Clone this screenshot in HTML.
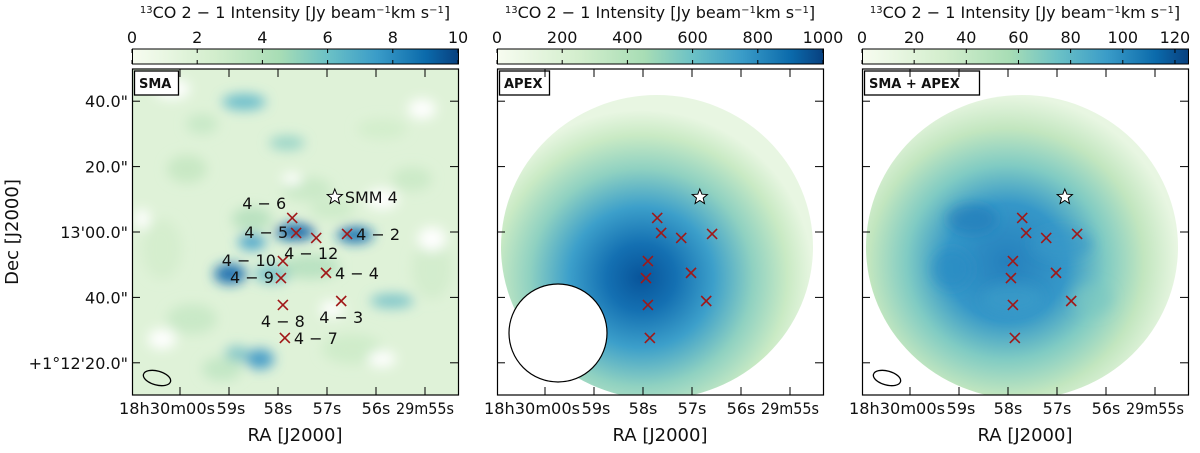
<!DOCTYPE html>
<html><head><meta charset="utf-8"><style>
body{margin:0;background:#fff;width:1200px;height:448px;overflow:hidden}
svg text{font-family:"DejaVu Sans","Liberation Sans",sans-serif;fill:#111}
</style></head><body>
<svg id="fig" width="1200" height="448" viewBox="0 0 1200 448">
<defs>
<linearGradient id="gnbu" x1="0" x2="1" y1="0" y2="0">
<stop offset="0" stop-color="#f7fcf0"/><stop offset="0.25" stop-color="#d3eecd"/><stop offset="0.45" stop-color="#a8ddb5"/>
<stop offset="0.6" stop-color="#6bc1c6"/><stop offset="0.75" stop-color="#3a9cc8"/><stop offset="0.9" stop-color="#0b6aab"/><stop offset="1" stop-color="#08407f"/>
</linearGradient>
<radialGradient id="apex" cx="0.45" cy="0.6" r="0.55">
<stop offset="0" stop-color="#08549a"/><stop offset="0.2" stop-color="#1470b2"/><stop offset="0.42" stop-color="#3c9fca"/>
<stop offset="0.65" stop-color="#8fd1c1"/><stop offset="0.85" stop-color="#c9eac4"/><stop offset="1" stop-color="#e8f6e2"/>
</radialGradient>
<radialGradient id="comb" cx="0.45" cy="0.55" r="0.55">
<stop offset="0" stop-color="#2580bd"/><stop offset="0.35" stop-color="#3597c8"/><stop offset="0.58" stop-color="#80cbc3"/>
<stop offset="0.8" stop-color="#c2e6bf"/><stop offset="1" stop-color="#e8f6e2"/>
</radialGradient>
<filter id="blur" x="-50%" y="-50%" width="200%" height="200%"><feGaussianBlur stdDeviation="6"/></filter>
<clipPath id="c1"><rect x="132" y="69" width="326" height="326"/></clipPath>
<clipPath id="c2"><rect x="497" y="69" width="326" height="326"/></clipPath>
<clipPath id="c3"><rect x="862" y="69" width="326" height="326"/></clipPath>
</defs>
</svg>
<script>
const NS="http://www.w3.org/2000/svg";
const svg=document.getElementById('fig');
const panelX=[132,497,862];
const panelW=326, panelTop=69, panelH=326;
const cbMax=[10,1000,125];
const cbTicks=[[0,2,4,6,8,10],[0,200,400,600,800,1000],[0,20,40,60,80,100,120]];
const panelLabels=["SMA","APEX","SMA + APEX"];
const raLabels=["18h30m00s","59s","58s","57s","56s","29m55s"];
const raTickOffsets=[0,1,2,3,4,5];      // seconds before 18h30m00s
const decLabels=["40.0\"","20.0\"","13'00.0\"","40.0\"","+1°12'20.0\""];
const decValues=[40,20,0,-20,-40];     // arcsec rel. to 13'00"
const srcNames=["4-6","4-5","4-12","4-2","4-10","4-9","4-4","4-8","4-3","4-7"];
const srcRA=[2.29,2.37,2.78,3.41,2.10,2.06,2.98,2.10,3.29,2.14];
const srcDec=[4.3,-0.3,-1.8,-0.6,-8.9,-14.1,-12.5,-22.3,-21.1,-32.4];
const starRA=3.16, starDec=10.7;
const xs=s=>48+s*49; const ys=d=>163-d*3.27;
function el(t,a,p){const e=document.createElementNS(NS,t);for(const k in a)e.setAttribute(k,a[k]);(p||svg).appendChild(e);return e;}
function txt(s,a,p){const e=el('text',a,p);e.textContent=s;return e;}
const smaBlobs=[[112,33,22,8,"#4fb0c8",0.8],[155,74,18,7,"#7cc8c0",0.7],[55,100,20,14,"#c3e6bf",0.8],[120,150,20,12,"#b0ddba",0.8],
[70,55,16,10,"#bfe5c0",0.7],[200,140,22,10,"#c6e8c3",0.7],[280,110,20,12,"#c5e7c2",0.7],[250,60,25,10,"#cfecc8",0.7],
[163,163,20,8,"#0d63a8",1],[223,166,18,8,"#1b73b1",1],[120,173,14,8,"#3e9fca",0.9],[98,205,16,10,"#1a70b0",1],[140,205,18,9,"#62b7c6",0.8],
[260,232,22,7,"#66bac5",0.8],[178,198,30,12,"#a9dcb8",0.7],[105,285,12,8,"#6dbcc5",0.8],[128,290,14,10,"#3795c6",0.9],[60,250,25,15,"#c0e5c0",0.7],
[220,280,30,15,"#c9e9c4",0.7],[300,200,20,30,"#cbe9c6",0.6],[30,180,20,30,"#cfebc8",0.6],[175,120,25,12,"#c2e6c0",0.7],[90,300,20,12,"#b8e2bd",0.7]];
const smaHoles=[[40,20,18,10],[250,130,16,10],[300,170,14,12],[30,270,14,10],[160,110,10,6],[290,40,14,10],[200,240,12,8],[250,290,14,8],[10,150,8,10]];
panelX.forEach((px,i)=>{
 const g=el('g',{transform:`translate(${px},0)`});
 
 
 const img=el('g',{'clip-path':`url(#c${i+1})`,transform:`translate(${-px},0)`},g);
 const ig=el('g',{transform:`translate(${px},${panelTop})`},img);
 if(i===0){
  el('rect',{x:0,y:0,width:panelW,height:panelH,fill:"#dff2d8"},ig);
  const b=el('g',{filter:"url(#blur)"},ig);
  smaBlobs.forEach(d=>el('ellipse',{cx:d[0],cy:d[1],rx:d[2],ry:d[3],fill:d[4],opacity:d[5]},b));
  smaHoles.forEach(d=>el('ellipse',{cx:d[0],cy:d[1],rx:d[2],ry:d[3],fill:"#ffffff"},b));
 } else {
  el('rect',{x:0,y:0,width:panelW,height:panelH,fill:"#fff"},ig);
  el('ellipse',{cx:160,cy:178,rx:156,ry:152,fill:i===1?"url(#apex)":"url(#comb)"},ig);
  if(i===2){const b=el('g',{filter:"url(#blur)"},ig);
   [[110,150,25,15,"#1f78b8"],[90,200,20,20,"#2a8ac3"],[200,175,30,15,"#3597c8"],[150,230,30,15,"#3d9fca"],[230,230,20,15,"#7cc8c2"]].forEach(d=>el('ellipse',{cx:d[0],cy:d[1],rx:d[2],ry:d[3],fill:d[4],opacity:0.6},b));}
 }
 el('rect',{x:0.5,y:panelTop,width:panelW,height:panelH,fill:"none",stroke:"#000","stroke-width":1.2},g);
 if(i===1){const c=el('circle',{cx:61,cy:333,r:49,fill:"#fff",stroke:"#000","stroke-width":1.2},g);}
 else{const c=el('ellipse',{cx:25,cy:378,rx:14,ry:7,transform:"rotate(15 25 378)",fill:"none",stroke:"#000","stroke-width":1.3},g);}
 const lw=i===2?115:(i===1?50:44);
 el('rect',{x:2.5,y:71,width:lw,height:24,fill:"#fff",stroke:"#000","stroke-width":1.3},g);
 const lt=txt(panelLabels[i],{x:7,y:88,'font-size':13,'font-weight':'bold'},g);
 
 
 raTickOffsets.forEach((s,k)=>{const x=xs(s);
  el('line',{x1:x,x2:x,y1:395,y2:387,stroke:"#000"},g);el('line',{x1:x,x2:x,y1:69,y2:77,stroke:"#000"},g);});
 raLabels.forEach((l,k)=>{const x=xs(raTickOffsets[k]);
  const a={x:x,y:414,'font-size':16,'text-anchor':'middle'};
  if(k===0){a.x=x-13;a.textLength=96;a.lengthAdjust='spacingAndGlyphs';}
  if(k===1){a.x=x+2;}
  if(k===5){a.textLength=58;a.lengthAdjust='spacingAndGlyphs';}
  const t=txt(l,a,g);
  });
 decValues.forEach((d,k)=>{const y=panelTop+ys(d);
  el('line',{x1:0,x2:8,y1:y,y2:y,stroke:"#000"},g);el('line',{x1:panelW-8,x2:panelW,y1:y,y2:y,stroke:"#000"},g);
  if(i===0){const t=txt(decLabels[k],{x:-4,y:y+6,'font-size':16,'text-anchor':'end'},g);
   }});
 const xt=txt("RA [J2000]",{x:163,y:441,'font-size':18,'text-anchor':'middle'},g);
 
 el('rect',{x:0.5,y:49,width:panelW,height:15,fill:"url(#gnbu)",stroke:"#000","stroke-width":1},g);
 cbTicks[i].forEach(v=>{const x=v/cbMax[i]*panelW;
  el('line',{x1:x,x2:x,y1:49,y2:53,stroke:"#000"},g);el('line',{x1:x,x2:x,y1:60,y2:64,stroke:"#000"},g);
  const t=txt(String(v),{x:x,y:43,'font-size':16,'text-anchor':'middle'},g);
  });
 const ct=el('text',{x:163,y:18,'font-size':16,'text-anchor':'middle'},g);
 
 ct.innerHTML='<tspan font-size="10" dy="-5">13</tspan><tspan dy="5">CO 2 − 1 Intensity [Jy beam</tspan><tspan font-size="10" dy="-5">−1</tspan><tspan dy="5">km s</tspan><tspan font-size="10" dy="-5">−1</tspan><tspan dy="5">]</tspan>';
 srcRA.forEach((s,k)=>{const x=xs(s),y=panelTop+ys(srcDec[k]);
  const m=el('path',{d:`M${x-5},${y-5}L${x+5},${y+5}M${x-5},${y+5}L${x+5},${y-5}`,stroke:"#a01818","stroke-width":1.6},g);
  });
 const sx=xs(starRA),sy=panelTop+ys(starDec);
 let pts=[];for(let k=0;k<10;k++){const r=k%2?3.5:8,a=-Math.PI/2+k*Math.PI/5;pts.push((sx+r*Math.cos(a)).toFixed(1)+","+(sy+r*Math.sin(a)).toFixed(1));}
 const st=el('polygon',{points:pts.join(" "),fill:"#fff",stroke:"#000","stroke-width":1},g);
 
 if(i===0){
  txt("SMM 4",{x:sx+10,y:sy+6,'font-size':16},g);
  const lab=[[-6,-9,'end'],[-8,5,'end'],[-5,21,'middle'],[9,6,'start'],[-7,5,'end'],[-7,5,'end'],[9,6,'start'],[0,22,'middle'],[0,22,'middle'],[9,6,'start']];
  srcNames.forEach((n,k)=>{const x=xs(srcRA[k])+lab[k][0],y=panelTop+ys(srcDec[k])+lab[k][1];
   const t=txt(n.replace('-',' − '),{x:x,y:y,'font-size':16,'text-anchor':lab[k][2]},g);
   });
 }
});
const yt=txt("Dec [J2000]",{x:0,y:0,'font-size':18,'text-anchor':'middle',transform:"translate(18,232) rotate(-90)"});


</script>
</body></html>
